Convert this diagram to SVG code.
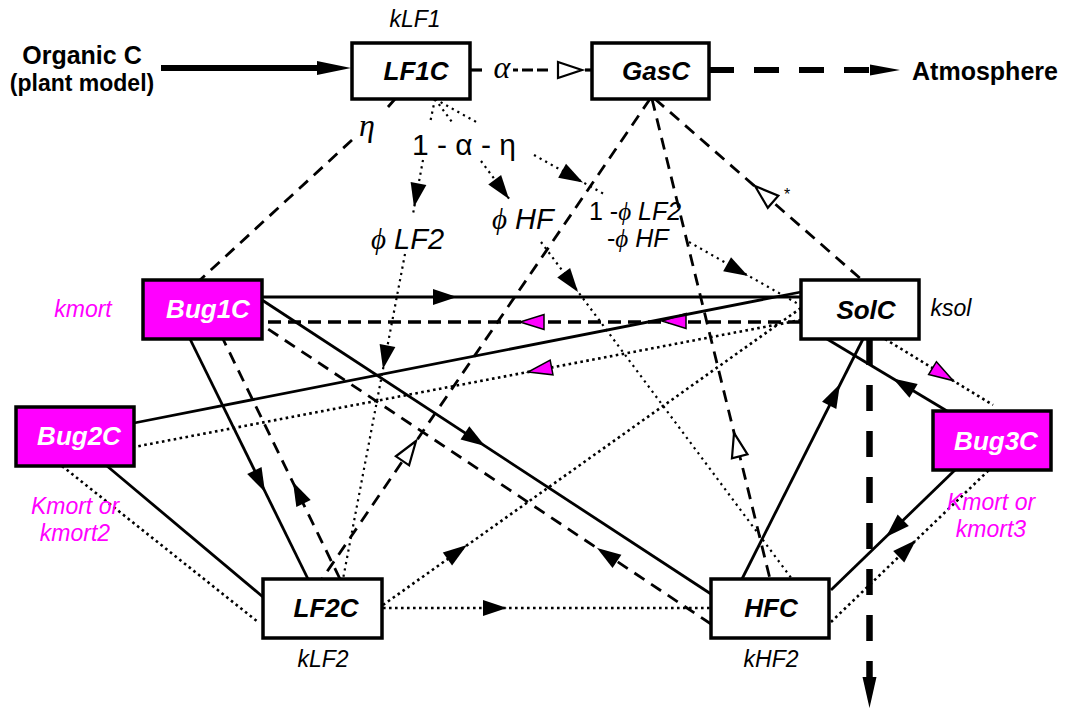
<svg xmlns="http://www.w3.org/2000/svg" width="1069" height="711" viewBox="0 0 1069 711">
  <style>
    .box { stroke: #000; stroke-width: 3.5; }
    .w { fill: #fff; }
    .m { fill: #ff00ff; }
    .name { font-family: "Liberation Sans", Arial, sans-serif; font-size: 26px; font-weight: bold; font-style: italic; text-anchor: middle; }
    .wt { fill: #fff; }
    .rate { font-family: "Liberation Sans", Arial, sans-serif; font-size: 23px; font-style: italic; text-anchor: middle; fill: #000; }
    .mg { fill: #ff00ff; }
    .big { font-family: "Liberation Sans", Arial, sans-serif; font-weight: bold; text-anchor: middle; fill: #000; }
    .sol { fill: none; stroke: #000; stroke-width: 2.8; }
    .dash { fill: none; stroke: #000; stroke-width: 2.8; stroke-dasharray: 12 8; }
    .dashb { fill: none; stroke: #000; stroke-width: 3.4; stroke-dasharray: 13 7; }
    .dot { fill: none; stroke: #000; stroke-width: 2.6; stroke-dasharray: 2.6 3.4; }
    .dotf { fill: none; stroke: #000; stroke-width: 2.2; stroke-dasharray: 2.2 4.2; }
    .thick { fill: none; stroke: #000; stroke-width: 6; }
    .frac { font-family: "Liberation Sans", Arial, sans-serif; fill: #000; }
    .it { font-style: italic; }
    .phi { font-family: "Liberation Serif", "DejaVu Serif", serif; font-style: italic; }
    .greek { font-family: "Liberation Serif", "DejaVu Serif", serif; font-style: italic; font-size: 32px; fill: #000; }
  </style>
  <defs>
    <path id="ah" d="M0,0 L-24,-8 L-24,8 Z" fill="#000"/>
    <path id="ahm" d="M0,0 L-24,-7.5 L-24,7.5 Z" fill="#ff00ff" stroke="#000" stroke-width="1.5" stroke-linejoin="miter"/>
    <path id="aho" d="M0,0 L-24,-8 L-24,8 Z" fill="#fff" stroke="#000" stroke-width="2.2"/>
  </defs>

  <rect width="1069" height="711" fill="#fff"/>

  <!-- connectors -->
  <g id="connectors">
    <!-- input from the plant model -->
    <line class="thick" x1="161" y1="68" x2="320" y2="68"/>
    <polygon points="317,61 351,68 317,75" fill="#000"/>

    <!-- LF1C to GasC (alpha) -->
    <line x1="470" y1="70" x2="482" y2="70" stroke="#000" stroke-width="3.2"/>
    <line x1="513" y1="70" x2="557" y2="70" stroke="#000" stroke-width="3.2" stroke-dasharray="5 4 11 4 11 9"/>
    <line x1="585" y1="70" x2="592" y2="70" stroke="#000" stroke-width="3.2"/>
    <use href="#aho" transform="translate(582,70)"/>

    <!-- GasC to atmosphere -->
    <line class="thick" x1="709" y1="70" x2="872" y2="70" stroke-dasharray="25 20"/>
    <polygon points="870,64.5 900,70 870,75.5" fill="#000"/>

    <!-- SolC leaching downward -->
    <line x1="869.5" y1="339" x2="869.5" y2="680" stroke="#000" stroke-width="6.5" stroke-dasharray="26 20"/>
    <polygon points="862.5,677 869.5,708 876.5,677" fill="#000"/>

    <!-- LF1C to Bug1C (eta) -->
    <path class="dash" d="M395,99 L388,107 M352,140 L200,280"/>

    <!-- LF1C partitioning (1 - alpha - eta) -->
    <path class="dotf" d="M435,99 L430,123 M423,160 L413,214 M405,254 L343,579"/>
    <use href="#ah" transform="translate(414,207) rotate(100.8)"/>
    <use href="#ah" transform="translate(383,369) rotate(100.8)"/>
    <path class="dotf" d="M435,99 L452,122 M481,161 L510,200 M541,242 L792,579"/>
    <use href="#ah" transform="translate(509,199) rotate(53.4)"/>
    <use href="#ah" transform="translate(578,292) rotate(53.4)"/>
    <path class="dotf" d="M435,99 L478,123 M534,155 L604,194 M689,242 L800,305"/>
    <use href="#ah" transform="translate(583,182.5) rotate(29.4)"/>
    <use href="#ah" transform="translate(748,276) rotate(29.4)"/>

    <!-- respiration to GasC -->
    <line class="dash" x1="650" y1="99" x2="322" y2="579"/>
    <use href="#aho" transform="translate(416,441) rotate(-55.7)"/>
    <line class="dash" x1="652" y1="99" x2="770" y2="579"/>
    <use href="#aho" transform="translate(734,433) rotate(-103.8)"/>
    <line class="dash" x1="655" y1="99" x2="862" y2="280"/>
    <use href="#aho" transform="translate(755,186) rotate(-138.8)"/>

    <!-- Bug1C exchanges -->
    <line class="sol" x1="262" y1="297" x2="801" y2="297"/>
    <use href="#ah" transform="translate(457,297)"/>
    <line class="dashb" x1="801" y1="322" x2="262" y2="322"/>
    <use href="#ahm" transform="translate(520,322) rotate(180)"/>
    <use href="#ahm" transform="translate(662,321) rotate(180)"/>
    <line class="sol" x1="190" y1="339" x2="308" y2="579"/>
    <use href="#ah" transform="translate(265,492) rotate(63.7)"/>
    <line class="dash" x1="340" y1="579" x2="223" y2="339"/>
    <use href="#ah" transform="translate(293,482) rotate(-116)"/>
    <line class="sol" x1="262" y1="300" x2="711" y2="594"/>
    <use href="#ah" transform="translate(485,446) rotate(33.2)"/>
    <line class="dash" x1="711" y1="624" x2="262" y2="325"/>
    <use href="#ah" transform="translate(597,548) rotate(-146.3)"/>

    <!-- Bug2C exchanges -->
    <line class="sol" x1="134" y1="423" x2="801" y2="292"/>
    <line class="dot" x1="801" y1="320" x2="134" y2="447"/>
    <use href="#ahm" transform="translate(528,372) rotate(169.2)"/>
    <line class="sol" x1="107" y1="466" x2="263" y2="597"/>
    <line class="dot" x1="62" y1="466" x2="258" y2="622"/>

    <!-- litter and humus flows -->
    <line class="dot" x1="383" y1="608" x2="711" y2="608"/>
    <use href="#ah" transform="translate(507,608)"/>
    <line class="dot" x1="383" y1="605" x2="801" y2="308"/>
    <use href="#ah" transform="translate(467,545) rotate(-35.4)"/>
    <line class="sol" x1="742" y1="579" x2="863" y2="339"/>
    <use href="#ah" transform="translate(840,384) rotate(-63.2)"/>

    <!-- Bug3C exchanges -->
    <line class="sol" x1="947" y1="411" x2="827" y2="339"/>
    <use href="#ah" transform="translate(893,378.6) rotate(211)"/>
    <line class="dot" x1="885" y1="339" x2="993" y2="405"/>
    <use href="#ahm" transform="translate(953,380.6) rotate(31.4)"/>
    <line class="sol" x1="955" y1="470" x2="831" y2="590"/>
    <use href="#ah" transform="translate(886,537) rotate(135.9)"/>
    <line class="dot" x1="831" y1="622" x2="990" y2="469"/>
    <use href="#ah" transform="translate(916,540) rotate(-43.9)"/>
  </g>

  <!-- flow fractions -->
  <g id="fractions">
    <text class="greek" x="502" y="78" text-anchor="middle">α</text>
    <text class="greek" x="367" y="136" text-anchor="middle">η</text>
    <text x="412" y="155" font-family="Liberation Sans, Arial, sans-serif" font-size="30" fill="#000">1 - α - η</text>
    <text class="frac" x="371" y="249" font-size="29"><tspan class="phi">ϕ</tspan><tspan class="it"> LF2</tspan></text>
    <text class="frac" x="492" y="229" font-size="29"><tspan class="phi">ϕ</tspan><tspan class="it"> HF</tspan></text>
    <text class="frac" x="589" y="220" font-size="25">1 -<tspan class="phi">ϕ</tspan><tspan class="it"> LF2</tspan></text>
    <text class="frac" x="607" y="247" font-size="25">-<tspan class="phi">ϕ</tspan><tspan class="it"> HF</tspan></text>
    <text x="787" y="200" font-family="Liberation Sans, Arial, sans-serif" font-size="16" text-anchor="middle" fill="#000">*</text>
  </g>

  <!-- source and sinks -->
  <g id="source">
    <text class="big" x="82" y="64" font-size="25">Organic C</text>
    <text class="big" x="82" y="91" font-size="23">(plant model)</text>
  </g>
  <g id="atmosphere">
    <text class="big" x="985" y="80" font-size="25">Atmosphere</text>
  </g>

  <!-- pools -->
  <g id="LF1C">
    <rect class="box w" x="352" y="43" width="118" height="56"/>
    <text class="name" x="416" y="80">LF1C</text>
    <text class="rate" x="415" y="27">kLF1</text>
  </g>
  <g id="GasC">
    <rect class="box w" x="592" y="43" width="117" height="56"/>
    <text class="name" x="656" y="80">GasC</text>
  </g>
  <g id="Bug1C">
    <rect class="box m" x="143" y="280" width="119" height="59"/>
    <text class="name wt" x="208" y="318">Bug1C</text>
    <text class="rate mg" x="83" y="317">kmort</text>
  </g>
  <g id="SolC">
    <rect class="box w" x="801" y="280" width="118" height="59"/>
    <text class="name" x="866" y="319">SolC</text>
    <text class="rate" x="951" y="316">ksol</text>
  </g>
  <g id="Bug2C">
    <rect class="box m" x="16" y="407" width="118" height="59"/>
    <text class="name wt" x="79" y="445">Bug2C</text>
    <text class="rate mg" x="75" y="514">Kmort or</text>
    <text class="rate mg" x="75" y="541">kmort2</text>
  </g>
  <g id="Bug3C">
    <rect class="box m" x="933" y="411" width="118" height="59"/>
    <text class="name wt" x="996" y="450">Bug3C</text>
    <text class="rate mg" x="991" y="510">Kmort or</text>
    <text class="rate mg" x="991" y="537">kmort3</text>
  </g>
  <g id="LF2C">
    <rect class="box w" x="263" y="579" width="119" height="59"/>
    <text class="name" x="326" y="617">LF2C</text>
    <text class="rate" x="323" y="667">kLF2</text>
  </g>
  <g id="HFC">
    <rect class="box w" x="711" y="579" width="118" height="59"/>
    <text class="name" x="771" y="617">HFC</text>
    <text class="rate" x="771" y="667">kHF2</text>
  </g>
</svg>
